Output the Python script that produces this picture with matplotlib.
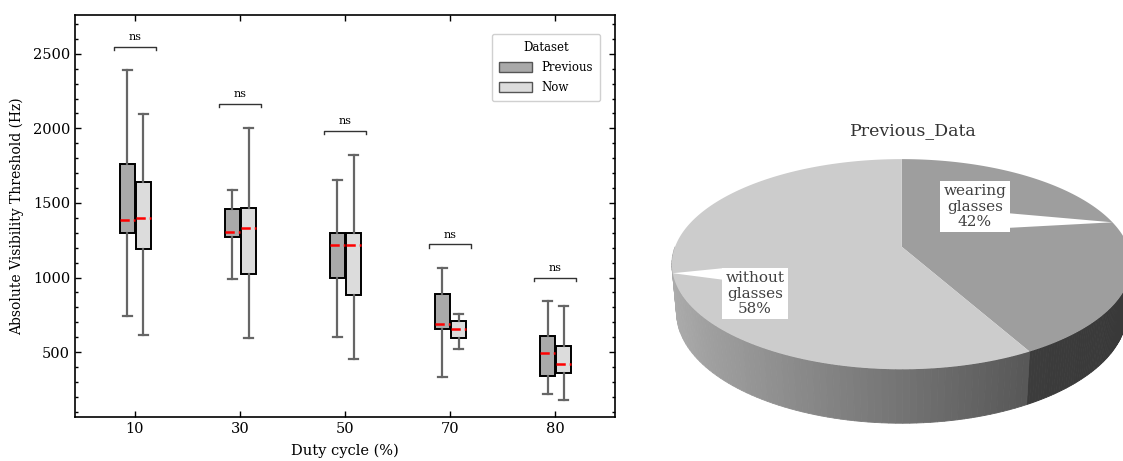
import numpy as np
import matplotlib
matplotlib.use('Agg')
import matplotlib.pyplot as plt
from matplotlib.patches import Patch, Polygon
from matplotlib.ticker import MultipleLocator, AutoMinorLocator

plt.rcParams['font.family'] = ['DejaVu Serif']

# box plot data (Hz)
duty_cycles = ['10', '30', '50', '70', '80']
prev_whislo = [742, 987, 604, 336, 220]
prev_q1 = [1300, 1273, 994, 653, 338]
prev_med = [1389, 1304, 1217, 691, 494]
prev_q3 = [1764, 1460, 1300, 892, 606]
prev_whishi = [2388, 1588, 1652, 1063, 840]

now_whislo = [617, 595, 452, 523, 180]
now_q1 = [1193, 1025, 883, 595, 358]
now_med = [1402, 1331, 1217, 657, 420]
now_q3 = [1641, 1467, 1300, 711, 541]
now_whishi = [2096, 2003, 1822, 758, 807]

sig_labels = ['ns', 'ns', 'ns', 'ns', 'ns']

# pie data
pie_labels = ['wearing\nglasses\n42%', 'without\nglasses\n58%']
pie_values = [42, 58]

prev_color = '#a9a9a9'
now_color = '#dcdcdc'

fig = plt.figure(figsize=(11.23, 4.61), dpi=100)
W, H = 1123, 461

# ---------------- left: box plot ----------------
ax = fig.add_axes([75 / W, (H - 417) / H, 540 / W, 402 / H])


def make_stats(lo, q1, med, q3, hi):
    return [dict(whislo=a, q1=b, med=c, q3=d, whishi=e, fliers=[])
            for a, b, c, d, e in zip(lo, q1, med, q3, hi)]


pos = np.arange(len(duty_cycles))
common = dict(widths=0.145, capwidths=0.085, patch_artist=True, showfliers=False,
              whiskerprops=dict(color='#666666', lw=1.6),
              capprops=dict(color='#666666', lw=1.6),
              medianprops=dict(color='red', lw=1.8, ls='--'))

b1 = ax.bxp(make_stats(prev_whislo, prev_q1, prev_med, prev_q3, prev_whishi),
            positions=pos - 0.072, boxprops=dict(facecolor=prev_color, edgecolor='black', lw=1.4), **common)
b2 = ax.bxp(make_stats(now_whislo, now_q1, now_med, now_q3, now_whishi),
            positions=pos + 0.082, boxprops=dict(facecolor=now_color, edgecolor='black', lw=1.4), **common)

# significance brackets
for i, lab in enumerate(sig_labels):
    y = max(prev_whishi[i], now_whishi[i]) + 160
    ax.plot([i - 0.2, i - 0.2, i + 0.2, i + 0.2], [y - 22, y, y, y - 22], color='#333333', lw=1.0)
    ax.text(i, y + 45, lab, ha='center', va='baseline', fontsize=8)

ax.set_xlim(-0.57, 4.57)
ax.set_ylim(65, 2760)
ax.set_xticks(pos)
ax.set_xticklabels(duty_cycles)
ax.yaxis.set_major_locator(MultipleLocator(500))
ax.yaxis.set_minor_locator(AutoMinorLocator(5))
ax.tick_params(which='both', direction='in', top=True, right=True, labelsize=10.5, width=1)
ax.tick_params(which='major', length=4.5)
ax.tick_params(which='minor', length=2.5)
ax.tick_params(axis='x', which='minor', bottom=False, top=False)
for s in ax.spines.values():
    s.set_linewidth(1.2)
ax.set_xlabel('Duty cycle (%)', fontsize=10.5, labelpad=5.5)
ax.set_ylabel('Absolute Visibility Threshold (Hz)', fontsize=10, labelpad=6)

handles = [Patch(facecolor=prev_color, edgecolor='#555555', lw=1),
           Patch(facecolor=now_color, edgecolor='#555555', lw=1)]
leg = ax.legend(handles, ['Previous', 'Now'], title='Dataset', loc='upper right',
                bbox_to_anchor=(1 - 15 / 540, 1 - 19 / 402), borderaxespad=0,
                fontsize=8.5, title_fontsize=8.5,
                handlelength=2.8, handleheight=0.9, framealpha=1, fancybox=True,
                borderpad=0.6, labelspacing=0.6)
leg.get_frame().set_edgecolor('#d0d0d0')

# ---------------- right: 3D pie ----------------
cx, cy, scale = 901.7, 246.7, 226.6          # pixel centre and pixels per pie unit
x0 = 640
ax2 = fig.add_axes([x0 / W, 0, (W - x0) / W, 1])
ax2.set_xlim((x0 - cx) / scale, (W - cx) / scale)
ax2.set_ylim((cy - H) / scale, cy / scale)
ax2.axis('off')


def px(xp, yp):
    return (xp - cx) / scale, (cy - yp) / scale


L = 5.36
el = np.radians(26.8)
depth = 0.24


def proj(th, z):
    x, y = np.cos(th), np.sin(th)
    d = L + y * np.cos(el) - z * np.sin(el)
    return x * L / d, (y * np.sin(el) + z * np.cos(el)) * L / d


top_colors = ['#9e9e9e', '#cccccc']
fracs = np.array(pie_values) / np.sum(pie_values)
starts = 90 - 360 * np.concatenate([[0], np.cumsum(fracs)[:-1]])
ends = starts - 360 * fracs

# side walls (front half only)
for k in range(len(pie_values)):
    a, b = max(ends[k], -180), min(starts[k], 0)
    if a >= b:
        continue
    th = np.radians(np.linspace(a, b, 80))
    for t1, t2 in zip(th[:-1], th[1:]):
        if k == 0:
            g = 0.25 - 0.03 * np.cos(t1)
        else:
            g = 0.45 - 0.23 * np.cos(t1)
        g = float(np.clip(g, 0, 1))
        xa, ya = proj(t1, 0)
        xb, yb = proj(t2, 0)
        xc, yc = proj(t2, -depth)
        xd, yd = proj(t1, -depth)
        ax2.add_patch(Polygon([[xa, ya], [xb, yb], [xc, yc], [xd, yd]],
                              closed=True, fc=(g, g, g), ec=(g, g, g), lw=0.6, zorder=1))

# top faces
for k in range(len(pie_values)):
    th = np.radians(np.linspace(starts[k], ends[k], 200))
    xs, ys = proj(th, 0)
    verts = np.vstack([[0, 0], np.column_stack([xs, ys])])
    ax2.add_patch(Polygon(verts, closed=True, fc=top_colors[k], ec='none', zorder=2))

# callout labels
label_px = [(975, 206.7), (755, 293.8)]
base_px = [[(1006, 213), (1006, 228)], [(725, 268), (725, 280)]]
for k, lab in enumerate(pie_labels):
    mid = np.radians((starts[k] + ends[k]) / 2)
    tx, ty = proj(mid, 0)
    p1, p2 = px(*base_px[k][0]), px(*base_px[k][1])
    ax2.add_patch(Polygon([p1, p2, [tx, ty]], closed=True, fc='white', ec='none', zorder=3))
    lx, ly = px(*label_px[k])
    ax2.text(lx, ly, lab, ha='center', va='center', fontsize=11, color='#404040',
             linespacing=1.12, zorder=4,
             bbox=dict(boxstyle='square,pad=0.22', fc='white', ec='none'))

tx, ty = px(913, 131)
ax2.text(tx, ty, 'Previous_Data', ha='center', va='center', fontsize=12.5, color='#333333')

fig.savefig('out.png', dpi=100)
